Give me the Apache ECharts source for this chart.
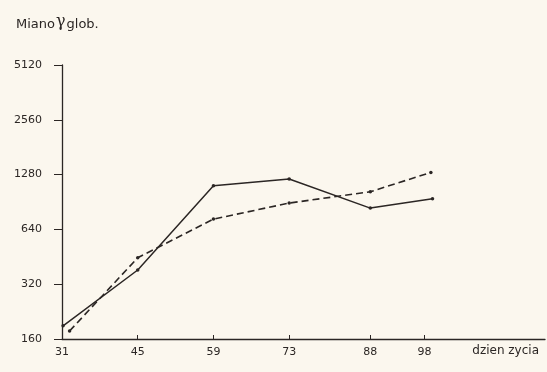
<!DOCTYPE html>
<html>
<head>
<meta charset="utf-8">
<script src="https://cdn.jsdelivr.net/npm/echarts@6/dist/echarts.min.js"></script>
<style>
html,body{margin:0;padding:0;background:#fbf7ee;}
#c{width:547px;height:372px;}
</style>
</head>
<body>
<div id="c"></div>
<script>
// Day-of-life tick values on the x axis
var xTicks = [31, 45, 59, 73, 88, 98];
// Titre (miano) tick values on the log2 y axis
var yTicks = [160, 320, 640, 1280, 2560, 5120];
// Solid series: day and titre
var solidDays = [31.2, 45, 59, 73, 88, 99.5];
var solidVals = [189, 383, 1112, 1210, 838, 943];
// Dashed series: day and titre
var dashDays = [32.4, 45, 59, 73, 88, 99.2];
var dashVals = [177, 447, 729, 893, 1030, 1316];

function pairs(xs, ys) { return xs.map(function (x, i) { return [x, ys[i]]; }); }

var ink = '#2b2624';
var chart = echarts.init(document.getElementById('c'));
chart.setOption({
  backgroundColor: '#fbf7ee',
  animation: false,
  title: {
    text: '{a|Miano}{g|γ}{a|glob.}',
    left: 11, top: 9,
    textStyle: {
      rich: {
        a: { fontFamily: 'DejaVu Sans', fontSize: 13, fontWeight: 'normal', color: ink },
        g: { fontFamily: 'DejaVu Serif', fontSize: 16, fontWeight: 'normal', color: ink, padding: [0, 1, 5, 1] }
      }
    }
  },
  grid: { left: 62, right: 2, top: 65, bottom: 33 },
  xAxis: {
    type: 'value', min: 31, max: 120.3,
    axisLine: { show: true, lineStyle: { color: ink, width: 1.3 } },
    axisTick: { show: true, inside: true, length: 4, customValues: xTicks, lineStyle: { color: ink } },
    axisLabel: { customValues: xTicks, color: ink, fontSize: 11, fontFamily: 'DejaVu Sans', margin: 8 },
    splitLine: { show: false },
    name: 'dzien zycia',
    nameLocation: 'end', nameGap: 0,
    nameTextStyle: { align: 'right', verticalAlign: 'top', padding: [6, 6, 0, 0], color: ink, fontSize: 12, fontFamily: 'DejaVu Sans' }
  },
  yAxis: {
    type: 'log', logBase: 2, min: 160, max: 5120,
    axisLine: { show: true, lineStyle: { color: ink, width: 1.3 } },
    axisTick: { show: true, length: 8, customValues: yTicks, lineStyle: { color: ink } },
    axisLabel: {
      customValues: yTicks, color: ink, fontSize: 11, fontFamily: 'DejaVu Sans', margin: 20,
      formatter: function (v) { return String(Math.round(v)); }
    },
    splitLine: { show: false }
  },
  series: [
    {
      type: 'line', data: pairs(solidDays, solidVals),
      symbol: 'circle', symbolSize: 3.5,
      itemStyle: { color: ink },
      lineStyle: { color: ink, width: 1.5 }
    },
    {
      type: 'line', data: pairs(dashDays, dashVals),
      symbol: 'circle', symbolSize: 3.5,
      itemStyle: { color: ink },
      lineStyle: { color: ink, width: 1.6, type: [7, 4] }
    }
  ]
});
</script>
</body>
</html>
